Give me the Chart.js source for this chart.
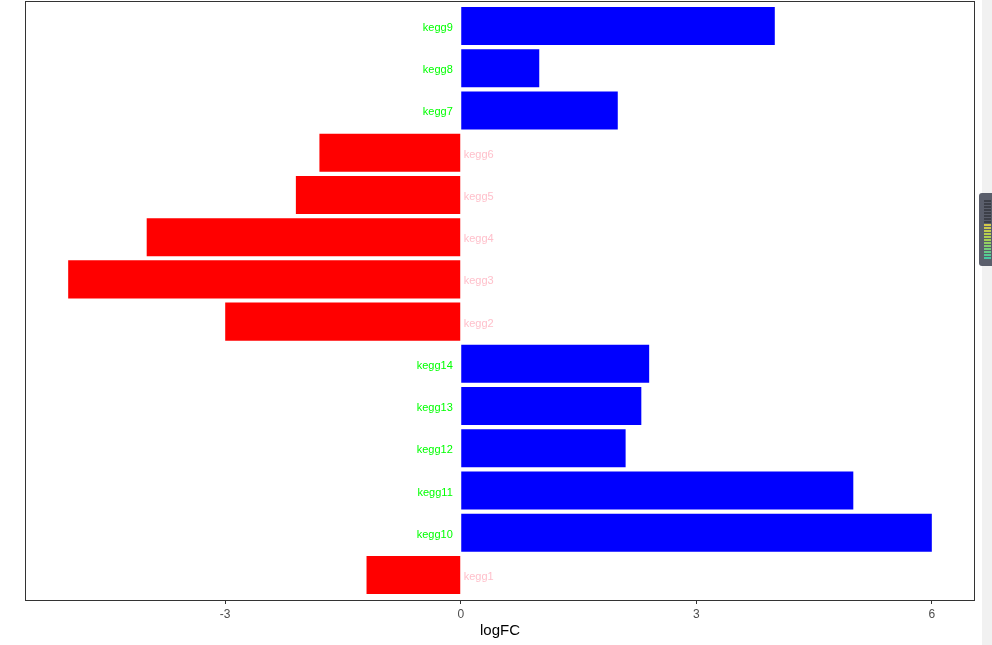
<!DOCTYPE html>
<html>
<head>
<meta charset="utf-8">
<script src="https://cdn.jsdelivr.net/npm/chart.js@4"></script>
<style>
  body { margin: 0; background: #fff; overflow: hidden; }
  #wrap { position: relative; width: 992px; height: 645px; }
  #strip { position: absolute; left: 982px; top: 0; width: 10px; height: 645px; background: #f1f1f1; }
  #knob { position: absolute; left: 979px; top: 193px; width: 13px; height: 73px; background: #5a5e6b; border-radius: 3px 0 0 3px; }
  #leds { position: absolute; left: 984px; top: 200px; width: 7px; height: 60px;
          background: repeating-linear-gradient(to bottom, rgba(0,0,0,0) 0 2px, #5a5e6b 2px 3px),
                      linear-gradient(to bottom, #3c3f48 0%, #3c3f48 38%, #d8c84a 40%, #a8d050 65%, #3cc8a8 100%); }
</style>
</head>
<body>
<div id="wrap">
  <canvas id="kegg-chart" width="992" height="645"></canvas>
  <div id="strip"></div>
  <div id="knob"></div>
  <div id="leds"></div>
</div>
<script>
// categories, top to bottom
var pathways = ["kegg9", "kegg8", "kegg7", "kegg6", "kegg5", "kegg4", "kegg3",
                "kegg2", "kegg14", "kegg13", "kegg12", "kegg11", "kegg10", "kegg1"];
// logFC per pathway
var logFC = [4, 1, 2, -1.8, -2.1, -4, -5, -3, 2.4, 2.3, 2.1, 5, 6, -1.2];
var xTicks = [-3, 0, 3, 6];

var barColors = logFC.map(function (v) { return v > 0 ? "#0000ff" : "#ff0000"; });
var barPoints = logFC.map(function (v, i) { return { x: v, y: i }; });

// names written at the zero line, opposite side of the bar
var zeroLabels = {
  id: "zeroLabels",
  afterDatasetsDraw: function (chart) {
    var ctx = chart.ctx;
    var x0 = chart.scales.x.getPixelForValue(0);
    ctx.save();
    ctx.font = "11px 'Liberation Sans', Arial, sans-serif";
    ctx.textBaseline = "middle";
    pathways.forEach(function (name, i) {
      var y = chart.scales.y.getPixelForValue(i) + 2;
      if (logFC[i] > 0) {
        ctx.fillStyle = "#00ff00";
        ctx.textAlign = "right";
        ctx.fillText(name, x0 - 8, y);
      } else {
        ctx.fillStyle = "#ffc0cb";
        ctx.textAlign = "left";
        ctx.fillText(name, x0 + 3, y);
      }
    });
    ctx.restore();
  }
};

// panel border
var panelBox = {
  id: "panelBox",
  afterDraw: function (chart) {
    var a = chart.chartArea, ctx = chart.ctx;
    ctx.save();
    ctx.strokeStyle = "#333333";
    ctx.lineWidth = 1;
    ctx.strokeRect(a.left + 0.5, a.top + 0.5, a.right - a.left - 1, a.bottom - a.top);
    ctx.restore();
  }
};

var chart = new Chart("kegg-chart", {
  type: "bar",
  data: {
    datasets: [{
      data: barPoints,
      backgroundColor: barColors,
      borderWidth: 0,
      barPercentage: 0.9,
      categoryPercentage: 1
    }]
  },
  options: {
    indexAxis: "y",
    responsive: false,
    animation: false,
    layout: { padding: { left: 25, right: 17, top: 1, bottom: 0 } },
    plugins: { legend: { display: false }, tooltip: { enabled: false } },
    scales: {
      x: {
        type: "linear",
        min: -5.55,
        max: 6.55,
        afterBuildTicks: function (scale) {
          scale.ticks = xTicks.map(function (v) { return { value: v }; });
        },
        afterFit: function (scale) { scale.height = 45; },
        grid: { drawOnChartArea: false, drawTicks: true, tickLength: 4, color: "#333333" },
        border: { display: false },
        ticks: {
          padding: 3,
          color: "#4d4d4d",
          font: { family: "'Liberation Sans', Arial, sans-serif", size: 12 }
        },
        title: {
          display: true,
          text: "logFC",
          color: "#000000",
          padding: { top: 0, bottom: 5 },
          font: { family: "'Liberation Sans', Arial, sans-serif", size: 15 }
        }
      },
      y: {
        type: "linear",
        reverse: true,
        offset: false,
        min: -0.59,
        max: 13.59,
        afterBuildTicks: function (scale) {
          scale.ticks = pathways.map(function (p, i) { return { value: i }; });
        },
        display: false
      }
    }
  },
  plugins: [zeroLabels, panelBox]
});
</script>
</body>
</html>
